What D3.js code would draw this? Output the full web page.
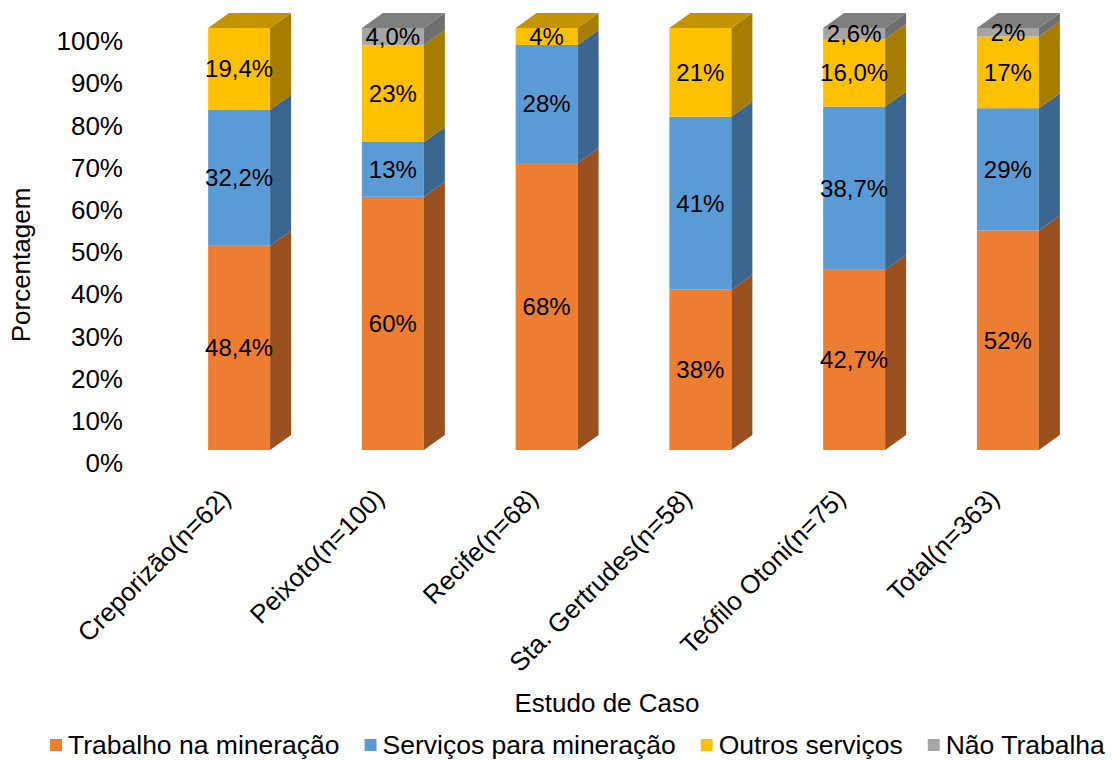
<!DOCTYPE html>
<html>
<head>
<meta charset="utf-8">
<script src="https://cdn.jsdelivr.net/npm/d3@7"></script>
<style>
  body { margin: 0; background: #fff; }
  text { font-family: "Liberation Sans", Arial, sans-serif; fill: #000; }
</style>
</head>
<body>
<svg id="chart" width="1117" height="760"></svg>
<script>
// data
var categories = ["Creporizão(n=62)", "Peixoto(n=100)", "Recife(n=68)", "Sta. Gertrudes(n=58)", "Teófilo Otoni(n=75)", "Total(n=363)"];
var seriesNames = ["Trabalho na mineração", "Serviços para mineração", "Outros serviços", "Não Trabalha"];
var mineracao = [48.4, 60, 68, 38, 42.7, 52];
var servicos = [32.2, 13, 28, 41, 38.7, 29];
var outros = [19.4, 23, 4, 21, 16.0, 17];
var naoTrabalha = [0, 4, 0, 0, 2.6, 2];
var labelsMineracao = ["48,4%", "60%", "68%", "38%", "42,7%", "52%"];
var labelsServicos = ["32,2%", "13%", "28%", "41%", "38,7%", "29%"];
var labelsOutros = ["19,4%", "23%", "4%", "21%", "16,0%", "17%"];
var labelsNao = ["", "4,0%", "", "", "2,6%", "2%"];
var yTicks = [0, 10, 20, 30, 40, 50, 60, 70, 80, 90, 100];

var front = ["#ED7D31", "#5B9BD5", "#FFC000", "#A5A5A5"];
var side = ["#9A5120", "#3A6690", "#A67D00", "#6E6E6E"];
var top_ = ["#B8621F", "#4A7DAB", "#C49400", "#7F7F7F"];

var values = [mineracao, servicos, outros, naoTrabalha];
var labels = [labelsMineracao, labelsServicos, labelsOutros, labelsNao];

var svg = d3.select("#chart");

var x = d3.scaleBand().domain(categories).range([162, 1085]).paddingInner(0.597).paddingOuter(0.3);
var y = d3.scaleLinear().domain([0, 100]).range([450, 28]);
var dx = 21, dy = -15;

// build stacked rows
var rows = categories.map(function (c, i) {
    var row = { cat: c };
    seriesNames.forEach(function (s, j) { row[s] = values[j][i]; });
    return row;
});
var stack = d3.stack().keys(seriesNames)(rows);

// y axis labels (sit a bit below the front face scale, like the original)
svg.append("g").selectAll("text")
    .data(yTicks).enter().append("text")
    .attr("x", 123)
    .attr("y", function (d) { return y(d) + 13; })
    .attr("dy", "0.35em")
    .attr("text-anchor", "end")
    .style("font-size", "26px")
    .text(function (d) { return d + "%"; });

var bars = svg.append("g");

categories.forEach(function (c, i) {
    var x0 = x(c), x1 = x(c) + x.bandwidth();
    var g = bars.append("g");
    var topIdx = -1;
    stack.forEach(function (layer, j) {
        var v0 = layer[i][0], v1 = layer[i][1];
        if (v1 - v0 <= 0) return;
        topIdx = j;
        var yb = y(v0), yt = y(v1);
        g.append("rect")
            .attr("x", x0).attr("y", yt)
            .attr("width", x1 - x0).attr("height", yb - yt)
            .attr("fill", front[j]);
        g.append("path")
            .attr("d", "M" + x1 + "," + yb + "L" + (x1 + dx) + "," + (yb + dy) +
                "L" + (x1 + dx) + "," + (yt + dy) + "L" + x1 + "," + yt + "Z")
            .attr("fill", side[j]);
    });
    var yTop = y(stack[topIdx][i][1]);
    g.append("path")
        .attr("d", "M" + x0 + "," + yTop + "L" + (x0 + dx) + "," + (yTop + dy) +
            "L" + (x1 + dx) + "," + (yTop + dy) + "L" + x1 + "," + yTop + "Z")
        .attr("fill", top_[topIdx]);

    // data labels
    stack.forEach(function (layer, j) {
        var v0 = layer[i][0], v1 = layer[i][1];
        if (v1 - v0 <= 0 || !labels[j][i]) return;
        g.append("text")
            .attr("x", (x0 + x1) / 2)
            .attr("y", (y(v0) + y(v1)) / 2)
            .attr("dy", "0.35em")
            .attr("text-anchor", "middle")
            .style("font-size", "24px")
            .text(labels[j][i]);
    });
});

// category labels
svg.append("g").selectAll("text")
    .data(categories).enter().append("text")
    .attr("transform", function (d) {
        return "translate(" + (x(d) + x.bandwidth() / 2 - 7) + ",500) rotate(-45)";
    })
    .attr("text-anchor", "end")
    .style("font-size", "26px")
    .text(function (d) { return d; });

// axis titles
svg.append("text")
    .attr("transform", "translate(30,265) rotate(-90)")
    .attr("text-anchor", "middle")
    .style("font-size", "26px")
    .text("Porcentagem");

svg.append("text")
    .attr("x", 607).attr("y", 712)
    .attr("text-anchor", "middle")
    .style("font-size", "26px")
    .text("Estudo de Caso");

// legend
var legend = svg.append("g");
var lx = 50;
seriesNames.forEach(function (s, j) {
    legend.append("rect")
        .attr("x", lx).attr("y", 739)
        .attr("width", 12).attr("height", 12)
        .attr("fill", front[j]);
    var t = legend.append("text")
        .attr("x", lx + 18).attr("y", 745)
        .attr("dy", "0.35em")
        .style("font-size", "26.5px")
        .text(s);
    lx += 18 + t.node().getComputedTextLength() + 25;
});
</script>
</body>
</html>
